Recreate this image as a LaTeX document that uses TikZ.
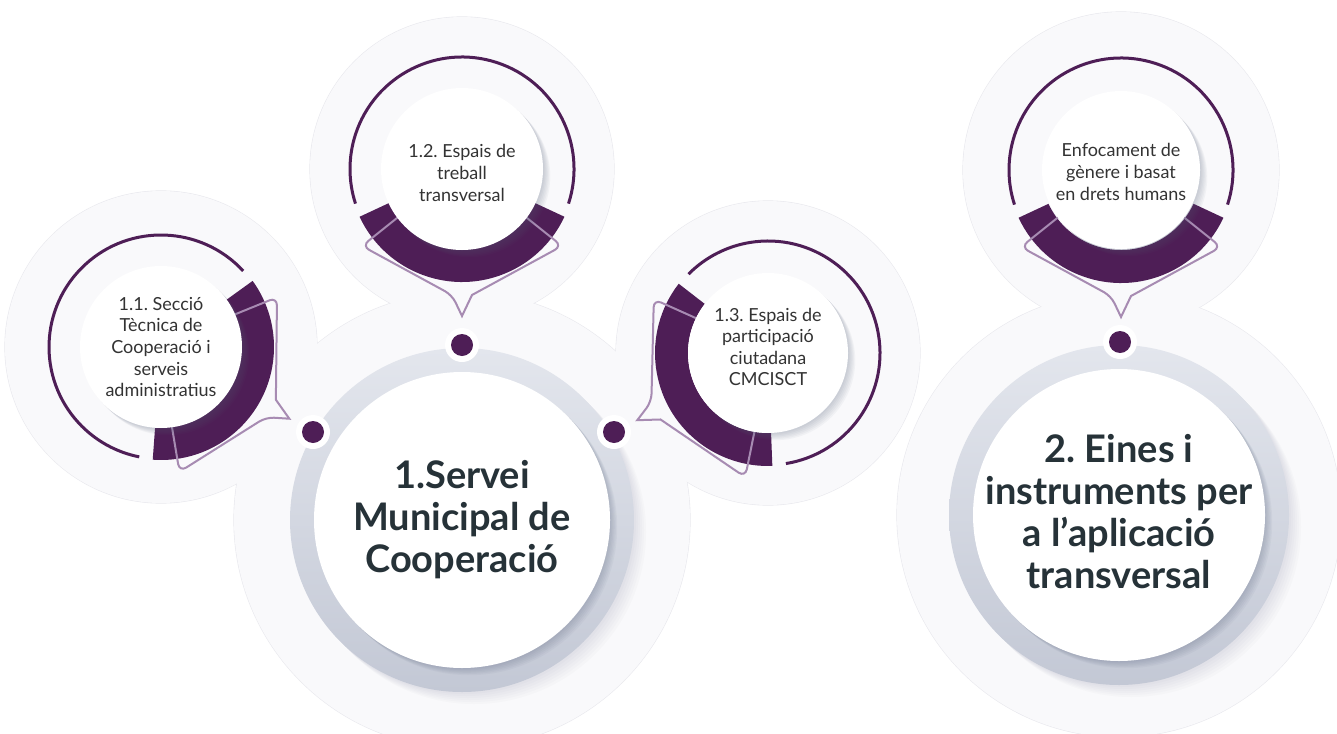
\documentclass[tikz,border=0pt]{standalone}
\usepackage{fontspec}
\setmainfont{Lato}
\frenchspacing
\usetikzlibrary{calc}
\usetikzlibrary{positioning}

\definecolor{purp}{HTML}{4E1E56}
\definecolor{lilac}{HTML}{A78BB2}
\definecolor{ringtop}{HTML}{E3E6ED}
\definecolor{ringbot}{HTML}{C3C8D5}
\definecolor{halo}{HTML}{F9F9FB}
\definecolor{haloedge}{HTML}{E9E9EE}
\definecolor{shadowc}{HTML}{55607A}
\definecolor{txt}{HTML}{333333}
\definecolor{bigtxt}{HTML}{263238}

\tikzset{
  smalltext/.style={align=center, font=\fontsize{9}{10.8}\selectfont, text=txt},
  bigtext/.style={align=center, font=\fontsize{19}{21}\selectfont\bfseries, text=bigtxt},
  purpledot/.style={circle, fill=purp, minimum size=11pt, inner sep=0pt},
  bubble/.pic={
    \draw[purp, line width=1.5pt] (-18:112) arc[start angle=-18, end angle=198, radius=112];
    \fill[purp] (-155:113) arc[start angle=-155, end angle=-25, radius=113]
      -- (-25:80) arc[start angle=-25, end angle=-155, radius=80] -- cycle;
    \draw[lilac, line width=1pt, rounded corners=4pt] (-60,-45) -- (-100,-77) -- (-10,-126)
      [sharp corners] -- (0,-147) -- (10,-126) [rounded corners=4pt] -- (100,-77) -- (60,-45);
  }
}

\begin{document}
\begin{tikzpicture}[x=0.5pt,y=0.5pt]
  \useasboundingbox[fill=white] (0,0) rectangle (1337,-733);

  \coordinate (b1) at (462,-520);
  \coordinate (b2) at (1119,-515);
  \coordinate (s11) at (161,-347);
  \coordinate (s12) at (462,-169);
  \coordinate (s13) at (768,-353);
  \coordinate (s2) at (1121,-170);

  % halos
  \foreach \c/\r in {b1/228, b2/222, s11/156, s12/152, s13/152, s2/158}
    \draw[haloedge, line width=0.6pt] (\c) circle[radius=\r];
  \foreach \c/\r in {b1/228, b2/222, s11/156, s12/152, s13/152, s2/158}
    \fill[halo] (\c) circle[radius=\r];

  % big rings
  \foreach \c/\r in {b1/172, b2/170}{
    \foreach \i in {1,...,6}
      \fill[shadowc, opacity=0.025] (\c) ++(\i*2,-\i*2) circle[radius=\r];
    \shade[top color=ringtop, bottom color=ringbot] (\c) circle[radius=\r];
  }

  % dots
  \foreach \p/\n in {{462,-345}/d12, {313,-432}/d11, {614,-432}/d13, {1120,-342}/d2}{
    \fill[white] (\p) circle[radius=17];
    \node[purpledot] (\n) at (\p) {};
  }

  % small circles
  \pic[rotate=60.8] at (s11) {bubble};
  \pic at (s12) {bubble};
  \pic[rotate=-62.8] at (s13) {bubble};
  \pic at (s2) {bubble};

  % disks
  \foreach \c/\r in {s11/81, s12/81, s13/80, s2/79, b1/148, b2/146}{
    \foreach \i in {1,...,6}
      \fill[shadowc, opacity=0.05] (\c) ++(\i*1.2,-\i*1.2) circle[radius=\r];
    \fill[white] (\c) circle[radius=\r];
  }

  \node[smalltext] (t11) at (s11) {1.1. Secció\\Tècnica de\\Cooperació i\\serveis\\administratius};
  \node[smalltext] (t12) at ($(s12)+(0,-4)$) {1.2. Espais de\\treball\\transversal};
  \node[smalltext] (t13) at ($(s13)+(0,6)$) {1.3. Espais de\\participació\\ciutadana\\CMCISCT};
  \node[smalltext] (t2s) at ($(s2)+(0,-2)$) {Enfocament de\\gènere i basat\\en drets humans};
  \node[bigtext] (t1) at (b1) {1.Servei\\Municipal de\\Cooperació};
  \node[bigtext] (t2) at ($(b2)+(0,3)$) {2. Eines i\\instruments per\\a l’aplicació\\transversal};
\end{tikzpicture}
\end{document}
